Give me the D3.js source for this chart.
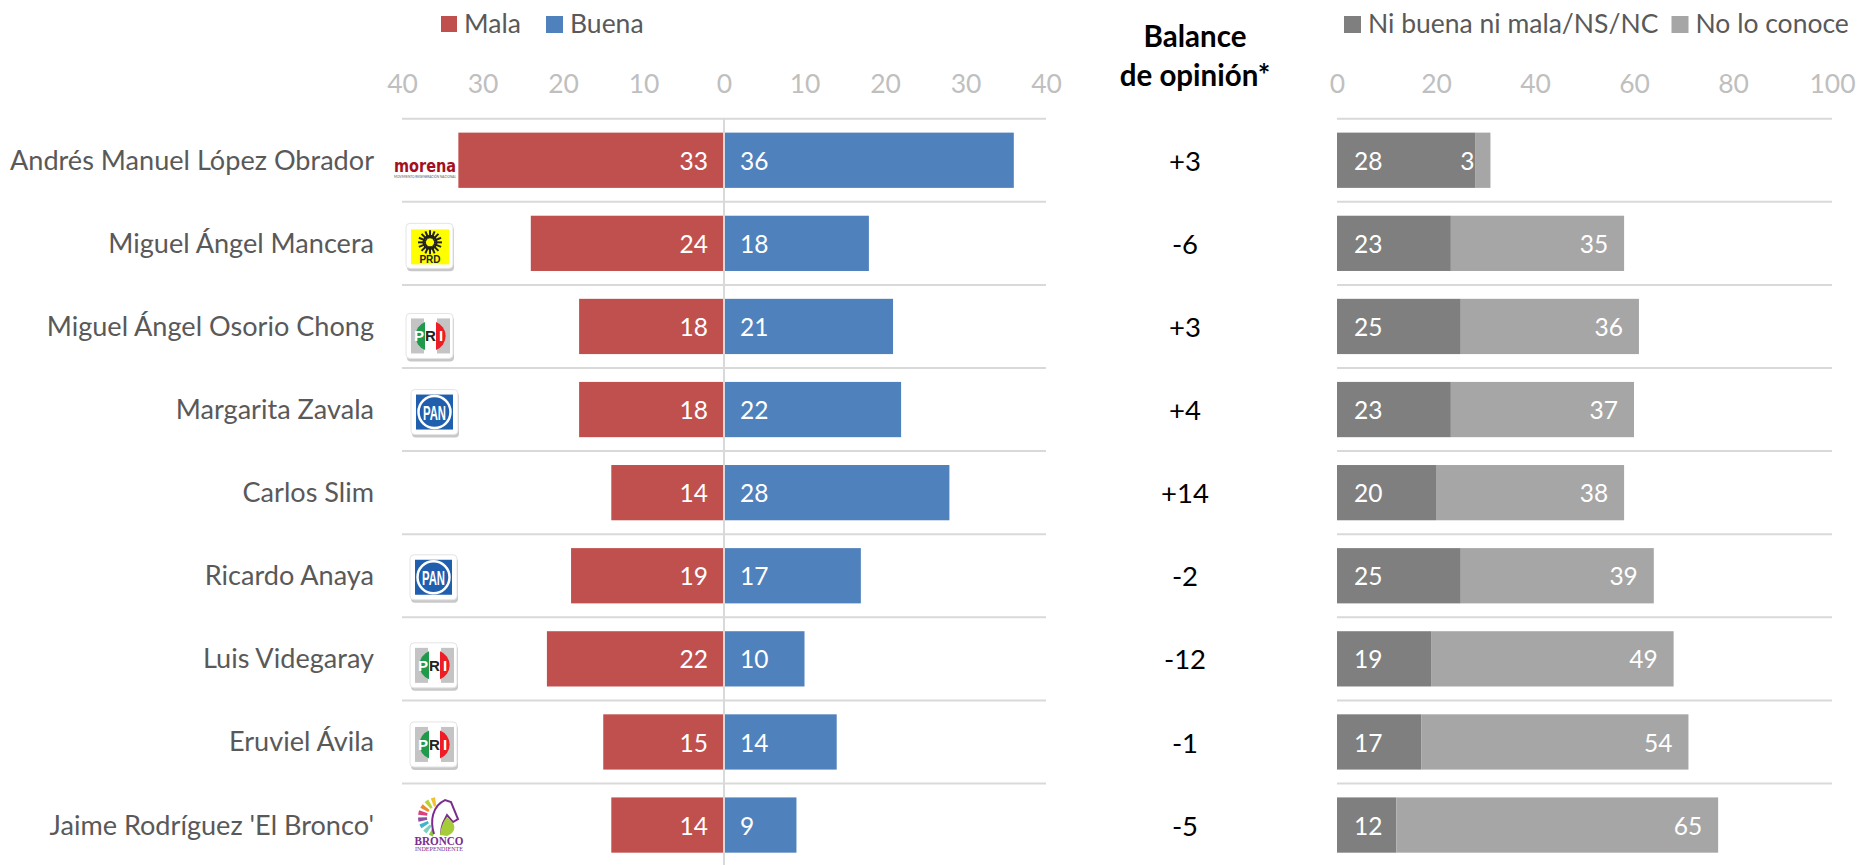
<!DOCTYPE html>
<html>
<head>
<meta charset="utf-8">
<title>Balance de opinión</title>
<script src="https://cdn.jsdelivr.net/npm/d3@7"></script>
<style>
  html, body { margin: 0; padding: 0; background: #fff; overflow: hidden; }
  text { font-family: Lato, "Open Sans", sans-serif; }
</style>
</head>
<body>
<div id="chart"></div>
<script>
// Data
const names = [
  "Andrés Manuel López Obrador", "Miguel Ángel Mancera", "Miguel Ángel Osorio Chong",
  "Margarita Zavala", "Carlos Slim", "Ricardo Anaya",
  "Luis Videgaray", "Eruviel Ávila", "Jaime Rodríguez 'El Bronco'"
];
const parties = ["morena", "prd", "pri", "pan", null, "pan", "pri", "pri", "bronco"];
const mala = [33, 24, 18, 18, 14, 19, 22, 15, 14];
const buena = [36, 18, 21, 22, 28, 17, 10, 14, 9];
const balance = ["+3", "-6", "+3", "+4", "+14", "-2", "-12", "-1", "-5"];
const niBuenaNiMala = [28, 23, 25, 23, 20, 25, 19, 17, 12];
const noLoConoce = [3, 35, 36, 37, 38, 39, 49, 54, 65];
const divergingTicks = [-40, -30, -20, -10, 0, 10, 20, 30, 40];
const stackedTicks = [0, 20, 40, 60, 80, 100];

// Constants for the layout
const WIDTH = 1858;
const HEIGHT = 865;
const TOP = 118.7;
const BOTTOM = 866.6;
const RED = "#c0504d";
const BLUE = "#4f81bd";
const DARK_GREY = "#7f7f7f";
const LIGHT_GREY = "#a6a6a6";
const GRID = "#d9d9d9";
const LABEL_SIZE = 26.5;

// offset of each logo, same order as the rows
const logoOffset = [
  { x: 425, dy: 13 }, { x: 430, dy: 3 }, { x: 430, dy: 10 },
  { x: 435, dy: 3 }, null, { x: 434, dy: 2 },
  { x: 434, dy: 7 }, { x: 434, dy: 3 }, { x: 439, dy: 0 }
];

const svg = d3.select("#chart").append("svg")
  .attr("width", WIDTH)
  .attr("height", HEIGHT);

const rows = d3.range(names.length);

const y = d3.scaleBand().domain(rows).range([TOP, BOTTOM]).paddingInner(0.335).paddingOuter(0.1675);
const xLeft = d3.scaleLinear().domain([-40, 40]).range([402, 1046]);
const xRight = d3.scaleLinear().domain([0, 100]).range([1337, 1832]);

drawGrid(402, 1046);
drawGrid(1337, 1832);
drawAxis(xLeft, divergingTicks, (d) => Math.abs(d));
drawAxis(xRight, stackedTicks, (d) => d);
drawDiverging();
drawStacked();
drawBalance();
drawNames();
drawLegend();
rows.forEach(drawLogo);

function drawGrid(x0, x1) {
  const lines = rows.map((i) => y(i) - (y.step() - y.bandwidth()) / 2);
  svg.append("g").selectAll("line").data(lines).enter().append("line")
    .attr("x1", x0)
    .attr("x2", x1)
    .attr("y1", (d) => d)
    .attr("y2", (d) => d)
    .attr("stroke", GRID)
    .attr("stroke-width", 2);
}

function drawAxis(x, ticks, format) {
  const g = svg.append("g")
    .attr("transform", "translate(0, 93)")
    .call(d3.axisTop(x).tickValues(ticks).tickSize(0).tickPadding(0).tickFormat(format));
  g.select(".domain").remove();
  g.selectAll("text")
    .attr("fill", "#bfbfbf")
    .attr("font-size", LABEL_SIZE)
    .style("font-family", "Lato");
}

function drawDiverging() {
  svg.append("g").selectAll("rect").data(rows).enter().append("rect")
    .attr("x", (i) => xLeft(-mala[i]))
    .attr("y", (i) => y(i))
    .attr("width", (i) => xLeft(0) - xLeft(-mala[i]))
    .attr("height", y.bandwidth())
    .attr("fill", RED);

  svg.append("g").selectAll("rect").data(rows).enter().append("rect")
    .attr("x", xLeft(0))
    .attr("y", (i) => y(i))
    .attr("width", (i) => xLeft(buena[i]) - xLeft(0))
    .attr("height", y.bandwidth())
    .attr("fill", BLUE);

  // vertical line on zero goes over the bars
  svg.append("line")
    .attr("x1", xLeft(0))
    .attr("x2", xLeft(0))
    .attr("y1", TOP)
    .attr("y2", HEIGHT)
    .attr("stroke", GRID)
    .attr("stroke-width", 2);

  barLabels(rows, (i) => mala[i], () => xLeft(0) - 16, "end");
  barLabels(rows, (i) => buena[i], () => xLeft(0) + 16, "start");
}

function drawStacked() {
  svg.append("g").selectAll("rect").data(rows).enter().append("rect")
    .attr("x", xRight(0))
    .attr("y", (i) => y(i))
    .attr("width", (i) => xRight(niBuenaNiMala[i]) - xRight(0))
    .attr("height", y.bandwidth())
    .attr("fill", DARK_GREY);

  svg.append("g").selectAll("rect").data(rows).enter().append("rect")
    .attr("x", (i) => xRight(niBuenaNiMala[i]))
    .attr("y", (i) => y(i))
    .attr("width", (i) => xRight(niBuenaNiMala[i] + noLoConoce[i]) - xRight(niBuenaNiMala[i]))
    .attr("height", y.bandwidth())
    .attr("fill", LIGHT_GREY);

  barLabels(rows, (i) => niBuenaNiMala[i], () => xRight(0) + 17, "start");
  barLabels(rows, (i) => noLoConoce[i], (i) => xRight(niBuenaNiMala[i] + noLoConoce[i]) - 16, "end");
}

function barLabels(data, value, xPos, anchor) {
  svg.append("g").selectAll("text").data(data).enter().append("text")
    .attr("x", xPos)
    .attr("y", (i) => y(i) + y.bandwidth() / 2 + 1)
    .attr("dy", "0.35em")
    .attr("text-anchor", anchor)
    .attr("font-size", LABEL_SIZE - 2)
    .attr("fill", "#fff")
    .text(value);
}

function drawBalance() {
  svg.selectAll("text.balance").data(rows).enter().append("text")
    .attr("class", "balance")
    .attr("x", 1185)
    .attr("y", (i) => y(i) + y.bandwidth() / 2 + 1)
    .attr("dy", "0.35em")
    .attr("text-anchor", "middle")
    .attr("font-size", LABEL_SIZE + 1)
    .attr("fill", "#000")
    .text((i) => balance[i]);

  ["Balance", "de opinión*"].forEach((line, i) => {
    svg.append("text")
      .attr("x", 1195)
      .attr("y", 47 + i * 39)
      .attr("text-anchor", "middle")
      .attr("font-size", 29.5)
      .attr("font-weight", "bold")
      .attr("fill", "#000")
      .text(line);
  });
}

function drawNames() {
  svg.append("g").selectAll("text").data(rows).enter().append("text")
    .attr("x", 374)
    .attr("y", (i) => y(i) + y.bandwidth() / 2)
    .attr("dy", "0.35em")
    .attr("text-anchor", "end")
    .attr("font-size", 27.1)
    .attr("fill", "#595959")
    .text((i) => names[i]);
}

function drawLegend() {
  const items = [
    { label: "Mala", color: RED, x: 441, size: 16, gap: 23 },
    { label: "Buena", color: BLUE, x: 546, size: 17, gap: 24 },
    { label: "Ni buena ni mala/NS/NC", color: DARK_GREY, x: 1344, size: 17, gap: 24 },
    { label: "No lo conoce", color: LIGHT_GREY, x: 1671.5, size: 17, gap: 24 }
  ];
  items.forEach((d) => {
    svg.append("rect")
      .attr("x", d.x)
      .attr("y", 16)
      .attr("width", d.size)
      .attr("height", d.size)
      .attr("fill", d.color);
    svg.append("text")
      .attr("x", d.x + d.gap)
      .attr("y", 24)
      .attr("dy", "0.35em")
      .attr("font-size", LABEL_SIZE)
      .attr("fill", "#595959")
      .text(d.label);
  });
}

// Party logos, drawn by hand
function drawLogo(i) {
  if (!parties[i]) return;
  const pos = logoOffset[i];
  const g = svg.append("g")
    .attr("transform", `translate(${pos.x}, ${y(i) + y.bandwidth() / 2 + pos.dy})`);
  if (parties[i] === "morena") logoMorena(g);
  if (parties[i] === "prd") logoPrd(g);
  if (parties[i] === "pri") logoPri(g);
  if (parties[i] === "pan") logoPan(g);
  if (parties[i] === "bronco") logoBronco(g);
}

function card(g) {
  g.append("rect").attr("x", -23).attr("y", -20).attr("width", 47).attr("height", 45)
    .attr("rx", 4).attr("fill", "#9a9a9a").attr("opacity", 0.55);
  g.append("rect").attr("x", -24).attr("y", -23).attr("width", 47).attr("height", 45)
    .attr("rx", 4).attr("fill", "#fff").attr("stroke", "#e4e4e4").attr("stroke-width", 1);
}

function logoMorena(g) {
  g.append("text")
    .attr("text-anchor", "middle")
    .attr("y", -1)
    .attr("font-size", 17)
    .attr("font-weight", "900")
    .attr("fill", "#a50f20")
    .attr("textLength", 62)
    .attr("lengthAdjust", "spacingAndGlyphs")
    .style("font-family", "DejaVu Sans")
    .text("morena");
  g.append("text")
    .attr("text-anchor", "middle")
    .attr("y", 5)
    .attr("font-size", 4)
    .attr("fill", "#555")
    .attr("textLength", 62)
    .attr("lengthAdjust", "spacingAndGlyphs")
    .text("MOVIMIENTO REGENERACIÓN NACIONAL");
}

function logoPrd(g) {
  card(g);
  g.append("rect").attr("x", -19).attr("y", -17).attr("width", 38).attr("height", 35).attr("fill", "#ffff00");
  const sun = g.append("g").attr("transform", "translate(0, -4)");
  sun.selectAll("line").data(d3.range(16)).enter().append("line")
    .attr("x1", 0)
    .attr("x2", 0)
    .attr("y1", 4)
    .attr("y2", 12)
    .attr("transform", (d) => `rotate(${d * 22.5})`)
    .attr("stroke", "#222")
    .attr("stroke-width", 2);
  sun.append("circle").attr("r", 6.5).attr("fill", "none").attr("stroke", "#222").attr("stroke-width", 2);
  g.append("text")
    .attr("text-anchor", "middle")
    .attr("y", 16.5)
    .attr("font-size", 10)
    .attr("font-weight", "bold")
    .attr("fill", "#222")
    .style("font-family", "Liberation Sans")
    .text("PRD");
}

function logoPri(g) {
  card(g);
  g.append("rect").attr("x", -19).attr("y", -18).attr("width", 13).attr("height", 35).attr("fill", "#c4c4c4");
  g.append("rect").attr("x", 7).attr("y", -18).attr("width", 13).attr("height", 35).attr("fill", "#c4c4c4");
  g.append("path").attr("d", "M-5,-14.5 A15,15 0 0 0 -5,13.5 Z").attr("fill", "#1f9a4a");
  g.append("path").attr("d", "M6,-14.5 A15,15 0 0 1 6,13.5 Z").attr("fill", "#ee1c25");
  [["P", -11, "#fff"], ["R", 0.5, "#222"], ["I", 11, "#fff"]].forEach((c) => {
    g.append("text")
      .attr("x", c[1])
      .attr("y", 5)
      .attr("text-anchor", "middle")
      .attr("font-size", 15)
      .attr("font-weight", "bold")
      .attr("fill", c[2])
      .style("font-family", "Liberation Sans")
      .text(c[0]);
  });
}

function logoPan(g) {
  card(g);
  g.append("rect").attr("x", -19).attr("y", -18).attr("width", 37).attr("height", 35).attr("fill", "#1f5fae");
  g.append("circle").attr("cx", -0.5).attr("cy", -0.5).attr("r", 16).attr("fill", "none").attr("stroke", "#fff").attr("stroke-width", 2.5);
  g.append("text")
    .attr("x", -0.5)
    .attr("text-anchor", "middle")
    .attr("y", 7)
    .attr("font-size", 20)
    .attr("font-weight", "bold")
    .attr("fill", "#fff")
    .attr("textLength", 23)
    .attr("lengthAdjust", "spacingAndGlyphs")
    .style("font-family", "Liberation Sans")
    .text("PAN");
}

function logoBronco(g) {
  const arc = d3.arc();
  const colors = ["#f2c230", "#b7d433", "#ef8a2c", "#d9417f", "#8e4fa0", "#3fb5c9", "#7fd0c0", "#8cc63f"];
  colors.forEach((c, k) => {
    g.append("path")
      .attr("transform", "translate(-1, -8)")
      .attr("d", arc({
        innerRadius: 11,
        outerRadius: 20,
        startAngle: -0.15 - k * 0.36,
        endAngle: -0.37 - k * 0.36
      }))
      .attr("fill", c);
  });
  g.append("path")
    .attr("d", "M-5,9 C-9,-4 -7,-19 6,-25 L12,-23 L19,-6 L14,-3 L8,-10 L4,-2 C2,3 2,6 2,10")
    .attr("fill", "#fff")
    .attr("stroke", "#7b2d8e")
    .attr("stroke-width", 2);
  g.append("path").attr("d", "M1,10 C2,2 4,-3 8,-8 L14,-2 C17,3 15,8 8,11 Z").attr("fill", "#a5cd39");
  g.append("text")
    .attr("text-anchor", "middle")
    .attr("y", 20)
    .attr("font-size", 12.5)
    .attr("font-weight", "bold")
    .attr("fill", "#7b2d8e")
    .attr("textLength", 49)
    .attr("lengthAdjust", "spacingAndGlyphs")
    .style("font-family", "Liberation Serif")
    .text("BRONCO");
  g.append("text")
    .attr("text-anchor", "middle")
    .attr("y", 26)
    .attr("font-size", 6.5)
    .attr("fill", "#7b2d8e")
    .attr("textLength", 48)
    .attr("lengthAdjust", "spacingAndGlyphs")
    .style("font-family", "Liberation Serif")
    .text("INDEPENDIENTE");
}
</script>
</body>
</html>
